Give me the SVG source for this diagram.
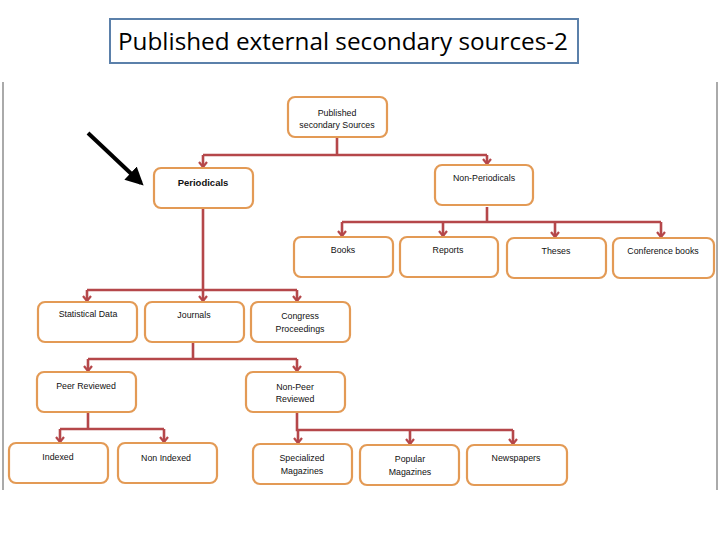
<svg xmlns="http://www.w3.org/2000/svg" width="720" height="540" viewBox="0 0 720 540">
<style>
.n rect{fill:#fff;stroke:#e39a55;stroke-width:2.2}
.n text{font-family:"Liberation Sans",Arial,sans-serif;font-size:8.8px;fill:#111;text-anchor:middle}
.c path{fill:none;stroke:#b5474a;stroke-width:2.6}
.ttl{font-family:"Open Sans","Liberation Sans",sans-serif;font-size:23px;fill:#000}
</style>
<defs>
<marker id="ah" viewBox="0 0 10 10" refX="9" refY="5" markerWidth="10" markerHeight="10" markerUnits="userSpaceOnUse" orient="auto">
<polyline points="4,1 9,5 4,9" fill="none" stroke="#b5474a" stroke-width="2.2"/>
</marker>
<marker id="bh" viewBox="0 0 10 10" refX="8" refY="5" markerWidth="4.5" markerHeight="4.5" orient="auto">
<path d="M0,0 L10,5 L0,10 Z" fill="#000"/>
</marker>
</defs>
<rect width="720" height="540" fill="#fff"/>
<line x1="3" y1="82" x2="3" y2="490" stroke="#aaa" stroke-width="2"/>
<line x1="717" y1="82" x2="717" y2="490" stroke="#aaa" stroke-width="2"/>
<g id="title">
<rect x="110" y="19" width="468" height="44" fill="#fff" stroke="#5b80aa" stroke-width="2"/>
<text class="ttl" x="118" y="50" textLength="450" lengthAdjust="spacingAndGlyphs">Published external secondary sources-2</text>
</g>
<g id="pointer"><line x1="88" y1="133" x2="141" y2="183" stroke="#000" stroke-width="4" marker-end="url(#bh)"/></g>
<g class="c" id="connectors">
<path d="M337,137 V155 M203,155 H487"/>
<path d="M203,155 V167" marker-end="url(#ah)"/>
<path d="M487,155 V164" marker-end="url(#ah)"/>
<path d="M487,207 V222 M342,222 H661"/>
<path d="M342,222 V236" marker-end="url(#ah)"/>
<path d="M443,222 V236" marker-end="url(#ah)"/>
<path d="M555,222 V237" marker-end="url(#ah)"/>
<path d="M661,222 V237" marker-end="url(#ah)"/>
<path d="M203,208 V290 M87,290 H297"/>
<path d="M87,290 V301" marker-end="url(#ah)"/>
<path d="M203,290 V301" marker-end="url(#ah)"/>
<path d="M297,290 V301" marker-end="url(#ah)"/>
<path d="M193,342 V359 M88,359 H297"/>
<path d="M88,359 V371" marker-end="url(#ah)"/>
<path d="M297,359 V371" marker-end="url(#ah)"/>
<path d="M88,412 V429 M60,429 H164"/>
<path d="M60,429 V442" marker-end="url(#ah)"/>
<path d="M164,429 V442" marker-end="url(#ah)"/>
<path d="M297,412 V430 H513"/>
<path d="M298,430 V443" marker-end="url(#ah)"/>
<path d="M410,430 V444" marker-end="url(#ah)"/>
<path d="M513,430 V444" marker-end="url(#ah)"/>
</g>
<g class="n" id="published"><rect x="288" y="97" width="99" height="40" rx="7"/><text x="337" y="116">Published</text><text x="337" y="128">secondary Sources</text></g>
<g class="n" id="periodicals"><rect x="154" y="168" width="99" height="40" rx="7"/><text x="203" y="186" style="font-weight:bold;font-size:9.5px">Periodicals</text></g>
<g class="n" id="nonperiodicals"><rect x="435" y="165" width="98" height="40" rx="7"/><text x="484" y="181">Non-Periodicals</text></g>
<g class="n" id="books"><rect x="294" y="237" width="99" height="40" rx="7"/><text x="343" y="253">Books</text></g>
<g class="n" id="reports"><rect x="400" y="237" width="98" height="40" rx="7"/><text x="448" y="253">Reports</text></g>
<g class="n" id="theses"><rect x="507" y="238" width="99" height="40" rx="7"/><text x="556" y="254">Theses</text></g>
<g class="n" id="conference"><rect x="613" y="238" width="101" height="40" rx="7"/><text x="663" y="254">Conference books</text></g>
<g class="n" id="statistical"><rect x="38" y="302" width="99" height="40" rx="7"/><text x="88" y="317">Statistical Data</text></g>
<g class="n" id="journals"><rect x="145" y="302" width="99" height="40" rx="7"/><text x="194" y="318">Journals</text></g>
<g class="n" id="congress"><rect x="251" y="302" width="99" height="40" rx="7"/><text x="300" y="319">Congress</text><text x="300" y="332">Proceedings</text></g>
<g class="n" id="peer"><rect x="37" y="372" width="99" height="40" rx="7"/><text x="86" y="389">Peer Reviewed</text></g>
<g class="n" id="nonpeer"><rect x="246" y="372" width="99" height="40" rx="7"/><text x="295" y="390">Non-Peer</text><text x="295" y="402">Reviewed</text></g>
<g class="n" id="indexed"><rect x="9" y="443" width="99" height="40" rx="7"/><text x="58" y="460">Indexed</text></g>
<g class="n" id="nonindexed"><rect x="118" y="443" width="99" height="40" rx="7"/><text x="166" y="461">Non Indexed</text></g>
<g class="n" id="specialized"><rect x="253" y="444" width="99" height="40" rx="7"/><text x="302" y="461">Specialized</text><text x="302" y="474">Magazines</text></g>
<g class="n" id="popular"><rect x="360" y="445" width="99" height="40" rx="7"/><text x="410" y="462">Popular</text><text x="410" y="475">Magazines</text></g>
<g class="n" id="newspapers"><rect x="467" y="445" width="100" height="40" rx="7"/><text x="516" y="461">Newspapers</text></g>
</svg>
